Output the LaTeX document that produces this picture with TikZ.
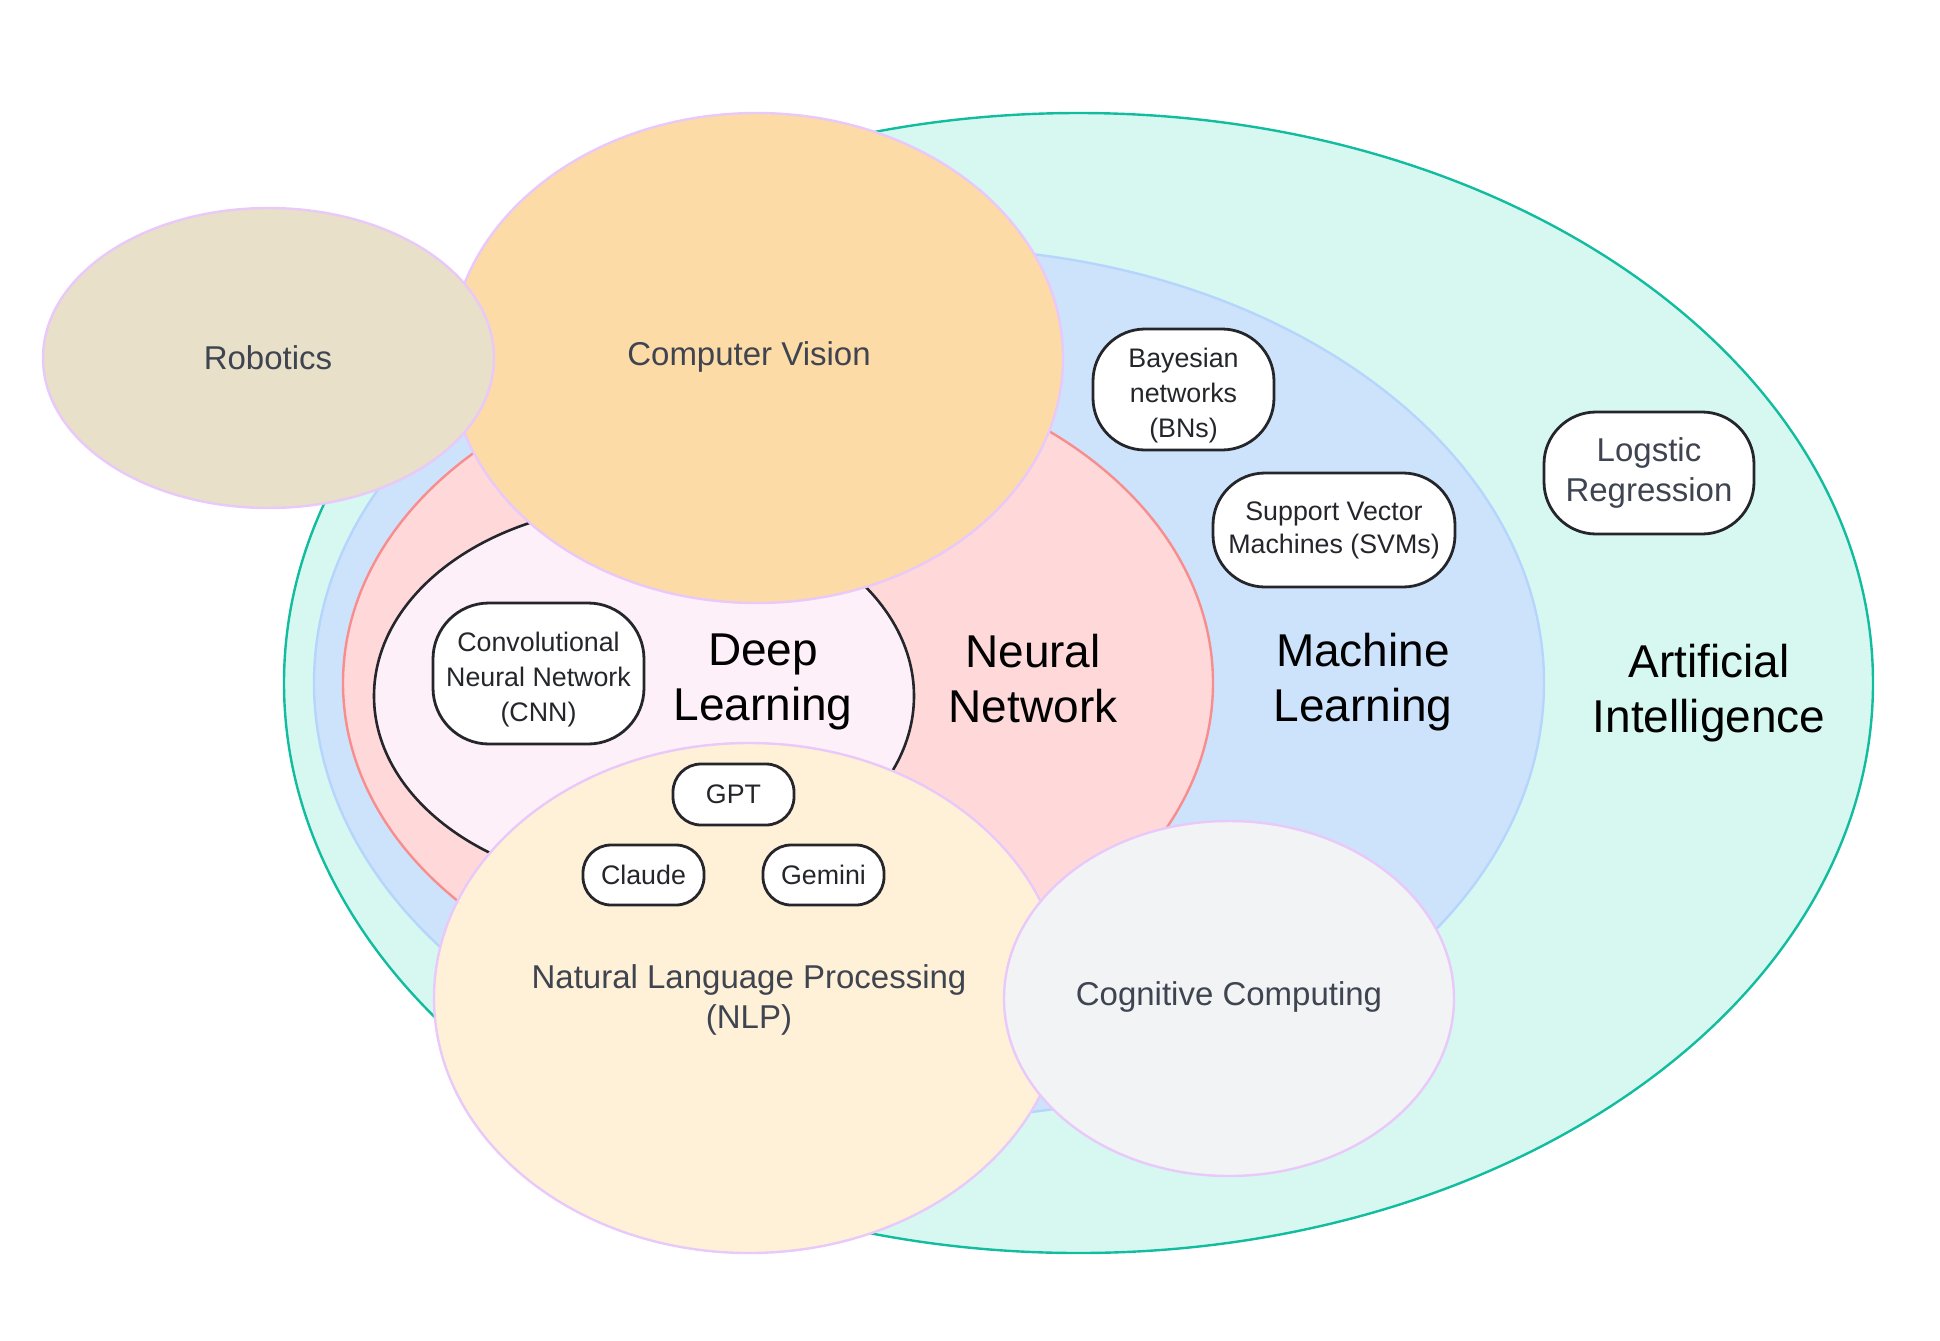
\documentclass[tikz,border=0pt]{standalone}
\usepackage{fontspec}
\setmainfont{Liberation Sans}
\usetikzlibrary{shapes.geometric}

\definecolor{aifill}{HTML}{D6F8F1}
\definecolor{ailine}{HTML}{12BC9E}
\definecolor{mlfill}{HTML}{CDE3FC}
\definecolor{mlline}{HTML}{B6D5FD}
\definecolor{nnfill}{HTML}{FFD9DA}
\definecolor{nnline}{HTML}{F98D8D}
\definecolor{dlfill}{HTML}{FEF0F8}
\definecolor{darkline}{HTML}{25262B}
\definecolor{cvfill}{HTML}{FDDBA6}
\definecolor{robfill}{HTML}{E8E0C8}
\definecolor{nlpfill}{HTML}{FFF1D8}
\definecolor{cogfill}{HTML}{F2F3F5}
\definecolor{lavline}{HTML}{E9C8FA}
\definecolor{graytext}{HTML}{3E4450}

\tikzset{
  area/.style={shape=ellipse, inner sep=0pt, line width=1.2pt},
  sidearea/.style={area, draw=lavline},
  biglabel/.style={align=center, font=\fontsize{23}{27.5}\selectfont, text=black},
  sublabel/.style={align=center, font=\fontsize{16.5}{20}\selectfont, text=graytext},
  bubble/.style={shape=rectangle, draw=darkline, fill=white, line width=1.4pt, align=center,
    inner sep=0pt, text=darkline, font=\fontsize{13.4}{17.5}\selectfont},
}

\begin{document}
\begin{tikzpicture}[x=0.5pt, y=-0.5pt]
    \useasboundingbox (0,0) rectangle (1940,1340);
    % Nested fields:
    \node[area, draw=ailine, fill=aifill, minimum width=794.5pt, minimum height=570pt](ai) at (1078.5, 683){};
    \node[area, draw=mlline, fill=mlfill, minimum width=615pt, minimum height=435pt](ml) at (929, 683){};
    \node[area, draw=nnline, fill=nnfill, minimum width=435pt, minimum height=322pt](nn) at (778, 683){};
    \node[area, draw=darkline, fill=dlfill, line width=1.3pt, minimum width=270pt, minimum height=191pt](dl) at (644, 696){};
    % Neighbouring fields:
    \node[sidearea, fill=cvfill, minimum width=306.5pt, minimum height=245pt](cv) at (756.5, 358){};
    \node[sidearea, fill=robfill, minimum width=225.5pt, minimum height=150pt](rob) at (268.5, 358){};
    \node[sidearea, fill=nlpfill, minimum width=315pt, minimum height=255pt](nlp) at (749, 998){};
    \node[sidearea, fill=cogfill, minimum width=225pt, minimum height=177.5pt](cog) at (1229, 998.5){};
    % Field names:
    \node[biglabel](dltext) at (763, 682){Deep\\Learning};
    \node[biglabel](nntext) at (1033, 679){Neural\\Network};
    \node[biglabel](mltext) at (1363, 682){Machine\\Learning};
    \node[biglabel](aitext) at (1709, 693){Artificial\\Intelligence};
    \node[sublabel](robtext) at (268, 358){Robotics};
    \node[sublabel](cvtext) at (749, 357){Computer Vision};
    \node[sublabel](nlptext) at (749, 1000){Natural Language Processing\\(NLP)};
    \node[sublabel](cogtext) at (1229, 997){Cognitive Computing};
    % Examples:
    \node[bubble, minimum width=105.5pt, minimum height=70.5pt, rounded corners=28pt](cnn) at (538.5, 673.5){};
    \node[align=center, text=darkline, font=\fontsize{13.4}{17.5}\selectfont](cnntext) at (538.5, 680){Convolutional\\Neural Network\\(CNN)};
    \node[bubble, minimum width=60.5pt, minimum height=30.5pt, rounded corners=14pt](gpt) at (733.5, 794.5){GPT};
    \node[bubble, minimum width=60.5pt, minimum height=30pt, rounded corners=14pt](claude) at (643.5, 875){Claude};
    \node[bubble, minimum width=60.5pt, minimum height=30pt, rounded corners=14pt](gemini) at (823.5, 875){Gemini};
    \node[bubble, minimum width=90.5pt, minimum height=60.5pt, rounded corners=26pt](bns) at (1183.5, 389.5){};
    \node[align=center, text=darkline, font=\fontsize{13.4}{17.5}\selectfont](bnstext) at (1183.5, 396){Bayesian\\networks\\(BNs)};
    \node[bubble, minimum width=121pt, minimum height=57pt, rounded corners=26pt, font=\fontsize{13.4}{16.5}\selectfont](svm) at (1334, 530){Support Vector\\Machines (SVMs)};
    \node[bubble, minimum width=105pt, minimum height=61pt, rounded corners=26pt, text=graytext, font=\fontsize{16.5}{20}\selectfont](logreg) at (1649, 473){Logstic\\Regression};
\end{tikzpicture}
\end{document}
